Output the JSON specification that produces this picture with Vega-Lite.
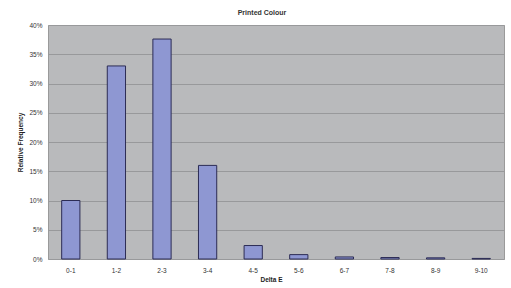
{
  "$schema": "https://vega.github.io/schema/vega-lite/v6.json",
  "autosize": "none",
  "width": 456,
  "height": 234,
  "padding": {"left": 48, "top": 25, "right": 7, "bottom": 29},
  "background": "white",
  "title": {
    "text": "Printed Colour",
    "font": "Liberation Sans",
    "fontSize": 7,
    "fontWeight": "bold",
    "color": "#333333",
    "offset": 6,
    "dx": -14
  },
  "config": {
    "view": {"fill": "#b9babc", "stroke": "#9a9a9a", "strokeWidth": 1},
    "axis": {
      "labelFont": "Liberation Sans",
      "titleFont": "Liberation Sans",
      "labelFontSize": 6.5,
      "titleFontSize": 6.5,
      "labelColor": "#333333",
      "titleColor": "#222222",
      "titleFontWeight": "bold"
    }
  },
  "data": {
    "values": [
      {"bin": "0-1", "freq": 0.100},
      {"bin": "1-2", "freq": 0.330},
      {"bin": "2-3", "freq": 0.376},
      {"bin": "3-4", "freq": 0.160},
      {"bin": "4-5", "freq": 0.023},
      {"bin": "5-6", "freq": 0.0075},
      {"bin": "6-7", "freq": 0.0035},
      {"bin": "7-8", "freq": 0.0025},
      {"bin": "8-9", "freq": 0.002},
      {"bin": "9-10", "freq": 0.001}
    ]
  },
  "mark": {"type": "bar", "fill": "#8e97d2", "stroke": "#2c2c55", "strokeWidth": 1},
  "encoding": {
    "x": {
      "field": "bin",
      "type": "ordinal",
      "sort": null,
      "scale": {"paddingInner": 0.6, "paddingOuter": 0.3},
      "axis": {
        "title": "Delta E",
        "labelAngle": 0,
        "domain": false,
        "ticks": false,
        "labelPadding": 8,
        "titlePadding": 3,
        "titleX": 223
      }
    },
    "y": {
      "field": "freq",
      "type": "quantitative",
      "scale": {"domain": [0, 0.4], "nice": false},
      "axis": {
        "title": "Relative Frequency",
        "format": ".0%",
        "values": [0, 0.05, 0.1, 0.15, 0.2, 0.25, 0.3, 0.35, 0.4],
        "domain": false,
        "ticks": false,
        "labelPadding": 6,
        "gridColor": "#98999b",
        "gridWidth": 1,
        "gridOpacity": 1,
        "titlePadding": 5
      }
    }
  }
}
